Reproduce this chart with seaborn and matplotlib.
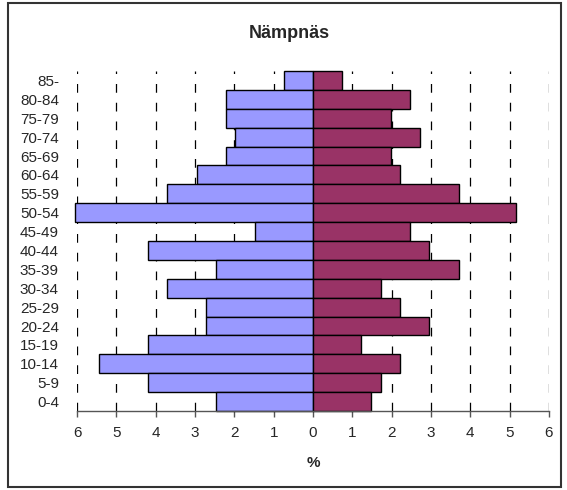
import matplotlib
matplotlib.use("Agg")
import matplotlib.pyplot as plt
from matplotlib.patches import Rectangle
import pandas as pd
import seaborn as sns

sns.set_style("white")
plt.rcParams['font.family'] = ['Liberation Sans', 'DejaVu Sans']

# Age groups, top to bottom
age_groups = ['85-', '80-84', '75-79', '70-74', '65-69', '60-64', '55-59',
              '50-54', '45-49', '40-44', '35-39', '30-34', '25-29', '20-24',
              '15-19', '10-14', '5-9', '0-4']
# Percent of population, left side (blue) and right side (purple)
left_pct = [0.74, 2.22, 2.22, 1.98, 2.22, 2.96, 3.70, 6.05, 1.48, 4.20,
            2.47, 3.70, 2.72, 2.72, 4.20, 5.43, 4.20, 2.47]
right_pct = [0.74, 2.47, 1.98, 2.72, 1.98, 2.22, 3.70, 5.17, 2.47, 2.96,
             3.70, 1.73, 2.22, 2.96, 1.23, 2.22, 1.73, 1.48]
x_ticks = [-6, -5, -4, -3, -2, -1, 0, 1, 2, 3, 4, 5, 6]

df = pd.DataFrame({'age': age_groups,
                   'left': [-v for v in left_pct],
                   'right': right_pct})

fig = plt.figure(figsize=(5.67, 4.9), dpi=100)
ax = fig.add_axes([77 / 567, 1 - 411 / 490, 472 / 567, 340 / 490])

# Dashed vertical grid behind the bars
for t in x_ticks:
    ax.axvline(t, color='black', lw=0.9, ls=(0, (7, 8)), zorder=0)

sns.barplot(data=df, x='left', y='age', order=age_groups, orient='h',
            color='#9999FF', saturation=1, width=1.0, edgecolor='black',
            linewidth=1, ax=ax, zorder=2)
sns.barplot(data=df, x='right', y='age', order=age_groups, orient='h',
            color='#993366', saturation=1, width=1.0, edgecolor='black',
            linewidth=1, ax=ax, zorder=2)
for p in ax.patches:
    p.set_clip_on(False)

ax.set_xlim(-6, 6)
ax.set_ylim(17.5, -0.5)
ax.set_xticks(x_ticks)
ax.set_xticklabels([str(abs(t)) for t in x_ticks], fontsize=11)
ax.tick_params(axis='x', direction='out', length=4, width=1, color='#555555', pad=7,
               bottom=True)
ax.tick_params(axis='y', length=0, pad=13, labelsize=11)
for lbl in ax.get_yticklabels():
    lbl.set_horizontalalignment('right')

for side in ['top', 'left', 'right']:
    ax.spines[side].set_visible(False)
ax.spines['bottom'].set_color('#555555')
ax.spines['bottom'].set_linewidth(1)

ax.set_ylabel('')
ax.set_xlabel('%', fontsize=11, fontweight='bold', labelpad=11)
fig.text(289 / 567, 1 - 33 / 490, 'Nämpnäs', ha='center', va='center',
         fontsize=13, fontweight='bold')

# Outer frame of the chart
fig.patches.append(Rectangle((8 / 567, 3 / 490), 553 / 567, 484 / 490,
                             transform=fig.transFigure, fill=False,
                             edgecolor='#333333', linewidth=1.5))

plt.savefig('out.png', dpi=100)
plt.close()
